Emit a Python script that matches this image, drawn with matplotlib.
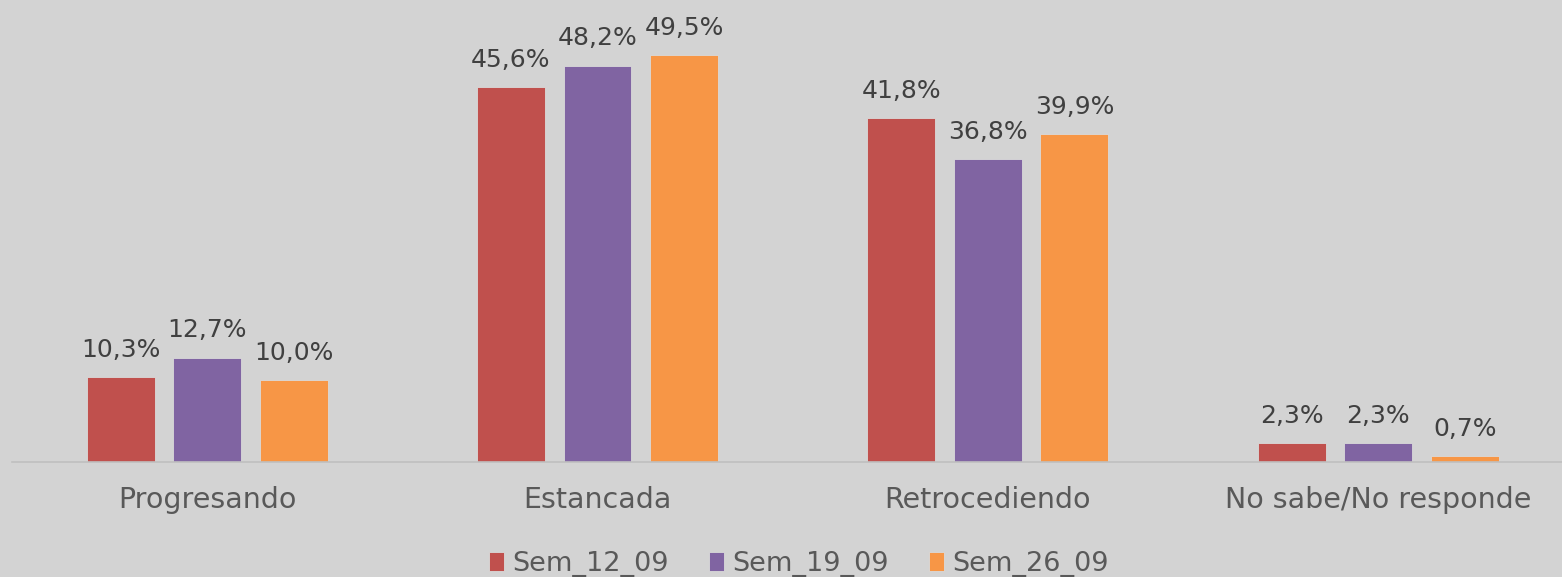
import numpy as np
import matplotlib.pyplot as plt

categories = ['Progresando', 'Estancada', 'Retrocediendo', 'No sabe/No responde']
series = ['Sem_12_09', 'Sem_19_09', 'Sem_26_09']
sem_12 = [10.3, 45.6, 41.8, 2.3]
sem_19 = [12.7, 48.2, 36.8, 2.3]
sem_26 = [10.0, 49.5, 39.9, 0.7]
colors = ['#C0504D', '#8064A2', '#F79646']

plt.rcParams['font.family'] = ['DejaVu Sans']
bg = '#D3D3D3'

fig = plt.figure(figsize=(15.62, 5.77), dpi=100, facecolor=bg)
ax = fig.add_axes([12 / 1562, 1 - 462 / 577, 1550 / 1562, 462 / 577])
ax.set_facecolor(bg)

x = np.arange(len(categories))
step = 0.2216
w = 0.174
for i, (vals, name) in enumerate(zip([sem_12, sem_19, sem_26], series)):
    pos = x + (i - 1) * step
    bars = ax.bar(pos, vals, w, color=colors[i], label=name,
                  edgecolor='#DADADA', linewidth=0.6)
    for b, v in zip(bars, vals):
        ax.annotate(f'{v:.1f}%'.replace('.', ','),
                    (b.get_x() + b.get_width() / 2, b.get_height()),
                    xytext=(0, 11), textcoords='offset points',
                    ha='center', va='bottom', fontsize=18, color='#404040')

ax.set_xlim(-0.5, -0.5 + 1550 / 390.33)
ax.set_ylim(0, 56.2)
ax.set_yticks([])
ax.set_xticks(x)
ax.set_xticklabels(categories, fontsize=20.5, color='#595959')
ax.tick_params(axis='x', length=0, pad=17)
for s in ['top', 'right', 'left']:
    ax.spines[s].set_visible(False)
ax.spines['bottom'].set_color('#BFBFBF')
ax.spines['bottom'].set_linewidth(1.2)

leg = fig.legend(loc='center', bbox_to_anchor=(799 / 1562, 1 - 564 / 577), ncol=3,
                 frameon=False, fontsize=19.5, handlelength=0.55, handleheight=0.7,
                 handletextpad=0.3, columnspacing=1.5, borderpad=0.1)
for t in leg.get_texts():
    t.set_color('#595959')

fig.savefig('out.png', dpi=100, facecolor=bg)
